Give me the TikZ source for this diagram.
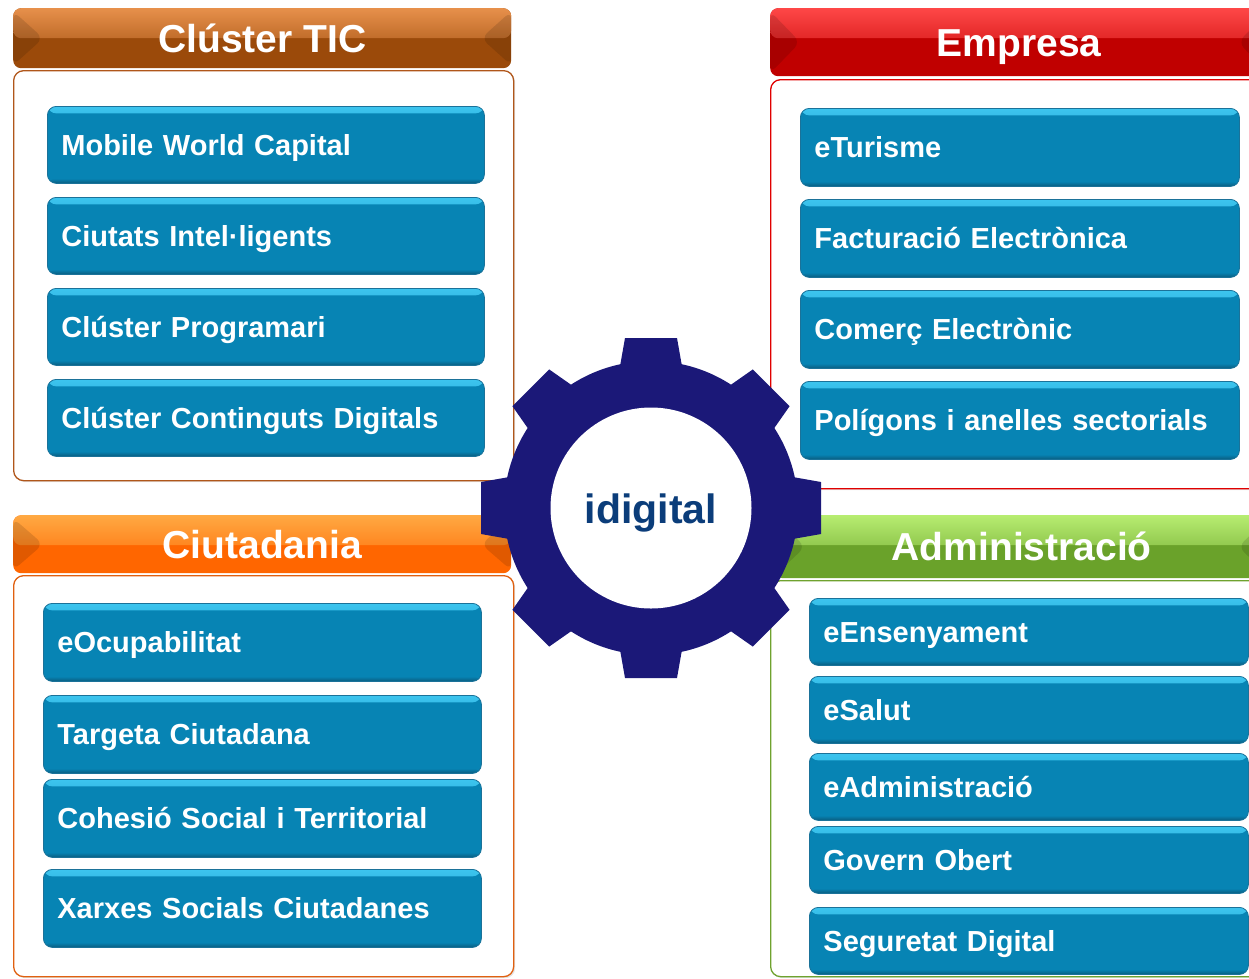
\documentclass[tikz,border=0pt]{standalone}
\usepackage{fontspec}
\setmainfont{Liberation Sans}
\usetikzlibrary{calc}
\definecolor{itemblue}{HTML}{0784B4}
\definecolor{itemhi}{HTML}{3CC4EE}
\definecolor{itemdark}{HTML}{0A5C7E}
\definecolor{itemedge}{HTML}{1B7299}
\definecolor{gearblue}{HTML}{1B1878}
\definecolor{idblue}{HTML}{0B3D7A}
\definecolor{ticmain}{HTML}{9B4A0A}
\definecolor{tictop}{HTML}{E8914C}
\definecolor{ticedge}{HTML}{B0561A}
\definecolor{empmain}{HTML}{C00000}
\definecolor{emptop}{HTML}{FF4848}
\definecolor{empedge}{HTML}{E00000}
\definecolor{ciumain}{HTML}{FF6600}
\definecolor{ciutop}{HTML}{FFAA44}
\definecolor{ciuedge}{HTML}{E06010}
\definecolor{admmain}{HTML}{6AA22A}
\definecolor{admtop}{HTML}{B8EE72}
\definecolor{admedge}{HTML}{6FA22E}
\begin{document}
\begin{tikzpicture}[x=1pt,y=-1pt,
  panel/.style={rectangle, rounded corners=10pt, fill=white, line width=1.3pt, anchor=north west, inner sep=0pt},
  panelshadow/.style={rectangle, rounded corners=10pt, fill=black!10, anchor=north west, inner sep=0pt},
  hdr/.style 2 args={rectangle, rounded corners=8pt, anchor=north west, inner sep=0pt, text=white,
    fill=#1, text height=28pt, text depth=0pt,
    font=\bfseries\fontsize{39}{45}\selectfont,
    path picture={
      \shade[top color=#2, bottom color=#1] ([yshift=1pt]path picture bounding box.north west) rectangle ([yshift=-30pt]path picture bounding box.north east);
      \fill[black, opacity=0.12] ([yshift=-3pt]path picture bounding box.north west) -- ([xshift=30pt]path picture bounding box.west) -- ([yshift=3pt]path picture bounding box.south west) -- cycle;
      \fill[black, opacity=0.12] ([yshift=-3pt]path picture bounding box.north east) -- ([xshift=-30pt]path picture bounding box.east) -- ([yshift=3pt]path picture bounding box.south east) -- cycle;
    }},
  item/.style={rectangle, rounded corners=9pt, fill=itemblue, draw=itemedge, line width=0.8pt,
    anchor=north west, text=white, font=\bfseries\fontsize{29}{34}\selectfont, align=left,
    inner xsep=14pt, inner ysep=0pt, text width=#1, text height=21pt, text depth=0pt,
    path picture={
      \shade[top color=itemhi, bottom color=itemblue] (path picture bounding box.north west) rectangle ([yshift=-7pt]path picture bounding box.north east);
      \shade[top color=itemblue, bottom color=itemdark] ([yshift=5pt]path picture bounding box.south west) rectangle (path picture bounding box.south east);
    }}
]
\useasboundingbox (0,0) rectangle (1249,978);
\clip (0,0) rectangle (1249,978);

% ---------- panels ----------
\node[panelshadow, minimum width=500pt, minimum height=410pt] at (15,72) {};
\node[panel, draw=ticedge, minimum width=500pt, minimum height=410pt] (ticP) at (13,70) {};
\node[panelshadow, minimum width=492pt, minimum height=409pt] at (772,81) {};
\node[panel, draw=empedge, minimum width=492pt, minimum height=409pt] (empP) at (770,79) {};
\node[panelshadow, minimum width=500pt, minimum height=401pt] at (15,577) {};
\node[panel, draw=ciuedge, minimum width=500pt, minimum height=401pt] (ciuP) at (13,575) {};
\node[panelshadow, minimum width=492pt, minimum height=396pt] at (772,582) {};
\node[panel, draw=admedge, minimum width=492pt, minimum height=396pt] (admP) at (770,580) {};

% ---------- headers ----------
\node[hdr={ticmain}{tictop}, minimum width=498pt, minimum height=60pt] (ticH) at (13,8) {Clúster TIC};
\node[hdr={empmain}{emptop}, minimum width=498pt, minimum height=68pt] (empH) at (770,8) {Empresa};
\node[hdr={ciumain}{ciutop}, minimum width=498pt, minimum height=58pt] (ciuH) at (13,515) {Ciutadania};
\node[hdr={admmain}{admtop}, minimum width=493pt, minimum height=63pt] (admH) at (775,515) {Administració};

% ---------- Clúster TIC items ----------
\node[item=409pt, minimum height=77pt] (tic1) at (47,106) {Mobile World Capital};
\node[item=409pt, minimum height=77pt] (tic2) at (47,197) {Ciutats Intel·ligents};
\node[item=409pt, minimum height=77pt] (tic3) at (47,288) {Clúster Programari};
\node[item=409pt, minimum height=77pt] (tic4) at (47,379) {Clúster Continguts Digitals};

% ---------- Empresa items ----------
\node[item=411pt, minimum height=78pt] (emp1) at (800,108) {eTurisme};
\node[item=411pt, minimum height=78pt] (emp2) at (800,199) {Facturació Electrònica};
\node[item=411pt, minimum height=78pt] (emp3) at (800,290) {Comerç Electrònic};
\node[item=411pt, minimum height=78pt] (emp4) at (800,381) {Polígons i anelles sectorials};

% ---------- Ciutadania items ----------
\node[item=410pt, minimum height=78pt] (ciu1) at (43,603) {eOcupabilitat};
\node[item=410pt, minimum height=78pt] (ciu2) at (43,695) {Targeta Ciutadana};
\node[item=410pt, minimum height=78pt] (ciu3) at (43,779) {Cohesió Social i Territorial};
\node[item=410pt, minimum height=78pt] (ciu4) at (43,869) {Xarxes Socials Ciutadanes};

% ---------- Administració items ----------
\node[item=411pt, minimum height=67pt] (adm1) at (809,598) {eEnsenyament};
\node[item=411pt, minimum height=67pt] (adm2) at (809,676) {eSalut};
\node[item=411pt, minimum height=67pt] (adm3) at (809,753) {eAdministració};
\node[item=411pt, minimum height=67pt] (adm4) at (809,826) {Govern Obert};
\node[item=411pt, minimum height=67pt] (adm5) at (809,907) {Seguretat Digital};

% ---------- gear ----------
\coordinate (g) at (651,508);
\fill[gearblue] (g) circle[radius=147pt];
\foreach \a in {0,45,...,315}
  \fill[gearblue, shift={(651,508)}, rotate=\a] (-32,136) -- (-26,170) -- (26,170) -- (32,136) -- cycle;
\node[circle, fill=white, minimum size=201pt, inner sep=0pt, text=idblue,
  text height=30pt, text depth=0pt,
  font=\bfseries\fontsize{41}{47}\selectfont] (idig) at (g) {idigital};
\end{tikzpicture}
\end{document}
